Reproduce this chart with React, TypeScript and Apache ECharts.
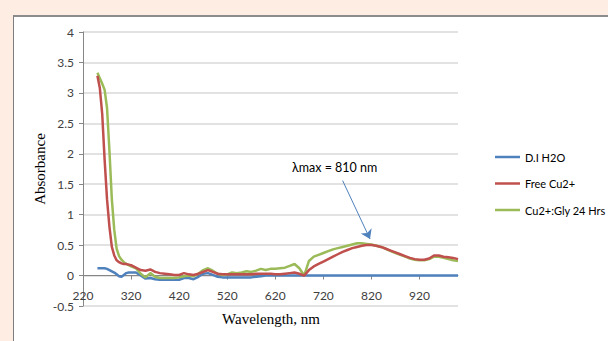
import React, { useEffect, useRef } from "react";
import * as echarts from "echarts";

const wavelengths = [
  250, 255, 260, 265, 270, 275, 280, 285, 290, 295, 300, 305, 310, 315, 320,
  330, 340, 350, 360, 370, 380, 390, 400, 410, 420, 430, 440, 450, 460, 470,
  480, 490, 500, 510, 520, 530, 540, 550, 560, 570, 580, 590, 600, 610, 620,
  630, 640, 650, 660, 670, 680, 690, 700, 710, 720, 730, 740, 750, 760, 770,
  780, 790, 800, 810, 820, 830, 840, 850, 860, 870, 880, 890, 900, 910, 920,
  930, 940, 950, 960, 970, 980, 990, 1000,
];

const diWater = [
  0.12, 0.12, 0.12, 0.12, 0.11, 0.09, 0.07, 0.05, 0.02, -0.01, -0.02, 0.01, 0.04, 0.05, 0.05,
  0.05, 0.0, -0.05, -0.04, -0.06, -0.07, -0.07, -0.07, -0.07, -0.07, -0.04, -0.04, -0.06, -0.02, 0.03,
  0.04, 0.01, -0.02, -0.03, -0.03, -0.03, -0.03, -0.03, -0.03, -0.03, -0.02, -0.01, 0, 0, 0,
  0, 0, 0, 0, 0, 0, 0, 0, 0, 0, 0, 0, 0, 0, 0,
  0, 0, 0, 0, 0, 0, 0, 0, 0, 0, 0, 0, 0, 0, 0,
  0, 0, 0, 0, 0, 0, 0, 0,
];

const freeCu = [
  3.28, 3.08, 2.65, 1.9, 1.25, 0.8, 0.47, 0.33, 0.25, 0.22, 0.2, 0.19, 0.19, 0.18, 0.17,
  0.13, 0.09, 0.08, 0.1, 0.06, 0.04, 0.03, 0.02, 0.01, 0.01, 0.04, 0.02, 0.01, 0.03, 0.06,
  0.09, 0.06, 0.03, 0.02, 0.02, 0.02, 0.02, 0.02, 0.02, 0.02, 0.03, 0.03, 0.03, 0.03, 0.02,
  0.02, 0.03, 0.04, 0.05, 0.03, 0.0, 0.09, 0.15, 0.19, 0.23, 0.27, 0.31, 0.35, 0.39, 0.42,
  0.45, 0.47, 0.49, 0.5, 0.5, 0.49, 0.47, 0.44, 0.41, 0.38, 0.35, 0.32, 0.29, 0.27, 0.26,
  0.26, 0.28, 0.33, 0.33, 0.31, 0.3, 0.29, 0.27,
];

const cuGly = [
  3.33, 3.24, 3.15, 3.05, 2.75, 2.05, 1.25, 0.75, 0.44, 0.32, 0.26, 0.22, 0.19, 0.17, 0.15,
  0.12, 0.03, -0.03, 0.04, -0.02, -0.04, -0.04, -0.04, -0.04, -0.03, -0.01, 0.0, -0.01, 0.03, 0.09,
  0.12, 0.08, 0.03, 0.01, 0.02, 0.05, 0.04, 0.05, 0.07, 0.06, 0.08, 0.11, 0.09, 0.11, 0.11,
  0.12, 0.13, 0.16, 0.19, 0.12, 0.0, 0.24, 0.31, 0.34, 0.37, 0.4, 0.43, 0.45, 0.47, 0.49,
  0.51, 0.53, 0.53, 0.52, 0.51, 0.49, 0.47, 0.44, 0.4, 0.37, 0.34, 0.31, 0.28, 0.26, 0.25,
  0.25, 0.27, 0.31, 0.31, 0.29, 0.27, 0.25, 0.24,
];

const seriesNames = ["D.I H2O", "Free Cu2+", "Cu2+:Gly 24 Hrs"];
const seriesColors = ["#4F81BD", "#C0504D", "#9BBB59"];
const annotationText = "λmax = 810 nm";
const arrowFrom = [760, 1.56];
const arrowTo = [817, 0.6];

const pairs = (ys: number[]) => wavelengths.map((x, i) => [x, ys[i]]);

export default function App() {
  const ref = useRef<HTMLDivElement>(null);

  useEffect(() => {
    if (!ref.current) return;
    const chart = echarts.init(ref.current, null, { renderer: "svg" });
    const labelFont = { fontFamily: "Lato", fontSize: 12, color: "#404040" };
    const datasets = [diWater, freeCu, cuGly];
    const yMin = -0.5;
    const yMax = 4;
    const gridTop = 32;
    const gridBottom = 35;
    const plotH = 341 - gridTop - gridBottom;
    const zeroOffset = -plotH * (0 - yMin) / (yMax - yMin);
    chart.setOption({
      animation: false,
      backgroundColor: "transparent",
      grid: { left: 83, right: 150, top: gridTop, bottom: gridBottom },
      legend: {
        orient: "vertical",
        left: 490,
        top: 145,
        icon: "rect",
        itemWidth: 25,
        itemHeight: 2.5,
        itemGap: 12.5,
        textStyle: { fontFamily: "Lato", fontSize: 11, color: "#000", lineHeight: 14 },
        data: seriesNames,
      },
      xAxis: {
        type: "value",
        min: 220,
        max: 1000,
        interval: 100,
        offset: zeroOffset,
        axisLine: { show: true, onZero: false, lineStyle: { color: "#868686", width: 1 } },
        axisTick: { show: true, length: 4, lineStyle: { color: "#868686" } },
        axisLabel: { ...labelFont, margin: 14, showMaxLabel: false },
        splitLine: { show: false },
      },
      yAxis: {
        type: "value",
        min: yMin,
        max: yMax,
        interval: 0.5,
        axisLine: { show: true, lineStyle: { color: "#868686", width: 1 } },
        axisTick: { show: true, length: 4, lineStyle: { color: "#868686" } },
        axisLabel: { ...labelFont, margin: 9 },
        splitLine: { show: true, lineStyle: { color: "#d9d9d9", width: 1.5 } },
      },
      series: seriesNames.map((name, i) => ({
        name,
        type: "line",
        data: pairs(datasets[i]),
        symbol: "none",
        smooth: false,
        color: seriesColors[i],
        lineStyle: { color: seriesColors[i], width: 2.5 },
        z: i === 0 ? 2 : 3 + (2 - i),
        ...(i === 0
          ? {
              markLine: {
                silent: true,
                symbol: ["none", "arrow"],
                symbolSize: 9,
                label: { show: false },
                lineStyle: { color: "#4F81BD", width: 1, type: "solid" },
                data: [[{ coord: arrowFrom }, { coord: arrowTo }]],
              },
            }
          : {}),
      })),
      graphic: [
        {
          type: "text",
          left: 292,
          top: 161,
          style: { text: annotationText, fontFamily: "Lato", fontSize: 12.5, fill: "#000" },
        },
        {
          type: "text",
          x: 40,
          y: 169,
          rotation: Math.PI / 2,
          style: {
            text: "Absorbance",
            fontFamily: "Liberation Serif",
            fontSize: 15,
            fill: "#000",
            align: "center",
            verticalAlign: "middle",
          },
        },
        {
          type: "text",
          x: 271,
          y: 319,
          style: {
            text: "Wavelength, nm",
            fontFamily: "Liberation Serif",
            fontSize: 15,
            fill: "#000",
            align: "center",
            verticalAlign: "middle",
          },
        },
      ],
    });
    return () => chart.dispose();
  }, []);

  return (
    <div style={{ position: "fixed", left: 0, top: 0, width: 608, height: 341, background: "#fdede3", overflow: "hidden" }}>
      <div
        style={{
          position: "absolute",
          left: 13,
          top: 15,
          right: 0,
          bottom: 0,
          background: "#ffffff",
          borderLeft: "1px solid #7f7f7f",
          borderTop: "2px solid #8c8c8c",
        }}
      />
      <div ref={ref} style={{ position: "absolute", left: 0, top: 0, width: 608, height: 341 }} />
    </div>
  );
}
